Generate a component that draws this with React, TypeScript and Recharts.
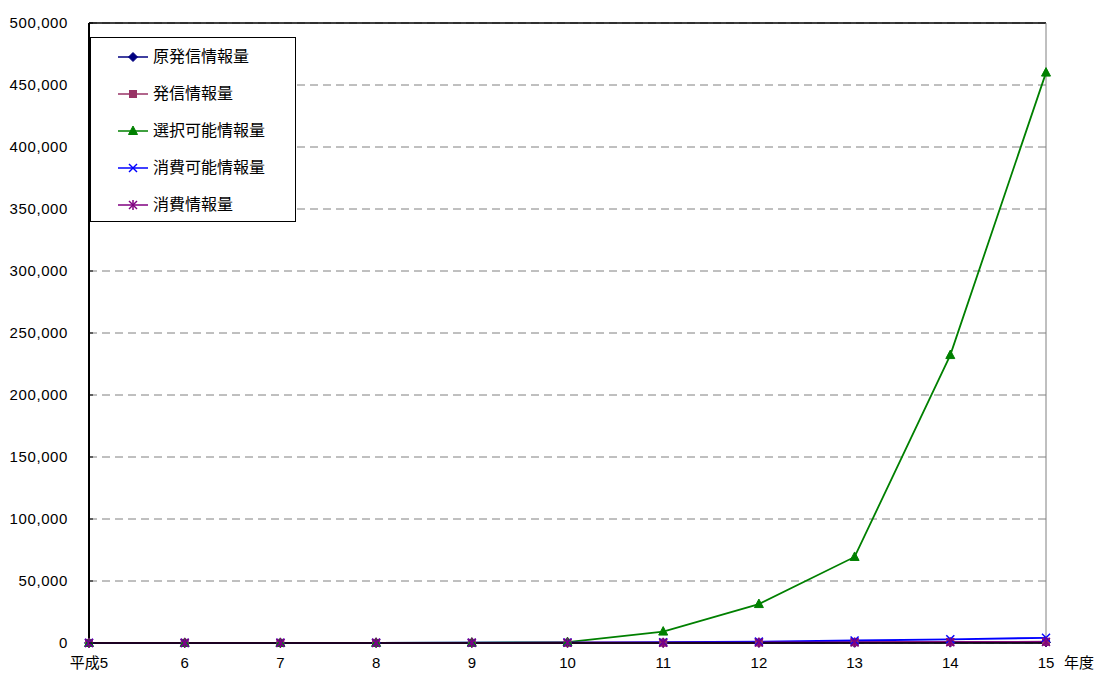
import React from 'react';
import { LineChart, Line, XAxis, YAxis, CartesianGrid, ReferenceLine } from 'recharts';

const years = ['平成5', '6', '7', '8', '9', '10', '11', '12', '13', '14', '15'];
const seriesNames = ['原発信情報量', '発信情報量', '選択可能情報量', '消費可能情報量', '消費情報量'];
const genHasshin = [60, 70, 80, 90, 110, 130, 160, 200, 260, 330, 420];
const hasshin = [80, 90, 110, 130, 160, 200, 280, 420, 600, 800, 1050];
const sentakuKanou = [60, 80, 100, 150, 300, 700, 9200, 31400, 69400, 232200, 460000];
const shouhiKanou = [90, 110, 140, 180, 250, 350, 600, 1100, 2000, 3000, 4200];
const shouhi = [70, 80, 100, 120, 150, 190, 260, 380, 500, 650, 800];
const yTicks = [0, 50000, 100000, 150000, 200000, 250000, 300000, 350000, 400000, 450000, 500000];

const seriesValues = [genHasshin, hasshin, sentakuKanou, shouhiKanou, shouhi];
const seriesColors = ['#000080', '#993366', '#008000', '#0000FF', '#800080'];
const seriesShapes = ['diamond', 'square', 'triangle', 'x', 'star'];

const data = years.map((y, i) => {
  const row: any = { year: y };
  seriesValues.forEach((arr, k) => {
    row['s' + k] = arr[i];
  });
  return row;
});

const FONT = "'Liberation Sans', Arial, 'Noto Sans CJK JP', sans-serif";

function Marker({ shape, cx, cy, color }: { shape: string; cx: number; cy: number; color: string }) {
  if (shape === 'diamond') {
    const s = 4.5;
    return <polygon points={`${cx},${cy - s} ${cx + s},${cy} ${cx},${cy + s} ${cx - s},${cy}`} fill={color} stroke={color} />;
  }
  if (shape === 'square') {
    return <rect x={cx - 3.5} y={cy - 3.5} width={7} height={7} fill={color} stroke={color} />;
  }
  if (shape === 'triangle') {
    return <polygon points={`${cx},${cy - 5} ${cx + 4.5},${cy + 3.5} ${cx - 4.5},${cy + 3.5}`} fill={color} stroke={color} />;
  }
  if (shape === 'x') {
    const s = 4;
    return (
      <g stroke={color} strokeWidth={1.5}>
        <line x1={cx - s} y1={cy - s} x2={cx + s} y2={cy + s} />
        <line x1={cx - s} y1={cy + s} x2={cx + s} y2={cy - s} />
      </g>
    );
  }
  const s = 4;
  return (
    <g stroke={color} strokeWidth={1.5}>
      <line x1={cx - s} y1={cy - s} x2={cx + s} y2={cy + s} />
      <line x1={cx - s} y1={cy + s} x2={cx + s} y2={cy - s} />
      <line x1={cx} y1={cy - s - 1} x2={cx} y2={cy + s + 1} />
    </g>
  );
}

const makeDot = (shape: string, color: string) => (props: any) => {
  const { cx, cy, index } = props;
  if (cx == null || cy == null) return <g key={index} />;
  return <Marker key={index} shape={shape} cx={cx} cy={cy} color={color} />;
};

const YTick = (props: any) => {
  const { x, y, payload } = props;
  return (
    <g>
      <line x1={x + 21} y1={y} x2={x + 25} y2={y} stroke="#000" strokeWidth={1} />
      <text x={x} y={y} dy={5} textAnchor="end" fontSize={15} letterSpacing={0.6} fontFamily={FONT} fill="#000">
        {Number(payload.value).toLocaleString('en-US')}
      </text>
    </g>
  );
};

const XTick = (props: any) => {
  const { x, y, payload } = props;
  return (
    <text x={x} y={y} dy={17} textAnchor="middle" fontSize={15} fontFamily={FONT} fill="#000">
      {payload.value}
    </text>
  );
};

function LegendBox() {
  return (
    <div
      style={{
        position: 'absolute',
        left: 90,
        top: 37,
        width: 206,
        height: 185,
        boxSizing: 'border-box',
        border: '1px solid #000',
        background: '#fff',
        fontFamily: FONT,
        fontSize: 16,
        color: '#000',
      }}
    >
      {seriesNames.map((name, i) => (
        <div key={name} style={{ height: 37, display: 'flex', alignItems: 'center' }}>
          <svg width={30} height={14} style={{ marginLeft: 27, marginRight: 5 }}>
            <line x1={0} y1={7} x2={30} y2={7} stroke={seriesColors[i]} strokeWidth={1.5} />
            <Marker shape={seriesShapes[i]} cx={15} cy={7} color={seriesColors[i]} />
          </svg>
          <span style={{ lineHeight: '16px' }}>{name}</span>
        </div>
      ))}
    </div>
  );
}

export default function App() {
  return (
    <div style={{ position: 'absolute', left: 0, top: 0, width: 1102, height: 673, background: '#fff' }}>
      <LineChart
        width={1102}
        height={673}
        data={data}
        margin={{ top: 23, right: 56, bottom: 0, left: 0 }}
      >
        <CartesianGrid vertical={false} stroke="#808080" strokeDasharray="8 5" />
        <XAxis
          dataKey="year"
          height={30}
          padding={{ left: 0, right: 0 }}
          tickLine={false}
          axisLine={{ stroke: '#000', strokeWidth: 1.5 }}
          tick={<XTick />}
          interval={0}
          label={{ value: '年度', position: 'right', offset: 18, dy: 5, fontSize: 15, fontFamily: FONT, fill: '#000' }}
        />
        <YAxis
          width={89}
          domain={[0, 500000]}
          ticks={yTicks}
          tickLine={false}
          tickSize={0}
          tickMargin={21}
          axisLine={{ stroke: '#000', strokeWidth: 2 }}
          tick={<YTick />}
          interval={0}
        />
        <ReferenceLine y={500000} stroke="#000" strokeWidth={1.5} />
        <ReferenceLine x="15" stroke="#808080" strokeWidth={1} />
        {seriesNames.map((name, k) => (
          <Line
            key={name}
            name={name}
            type="linear"
            dataKey={'s' + k}
            stroke={seriesColors[k]}
            strokeWidth={1.8}
            dot={makeDot(seriesShapes[k], seriesColors[k])}
            activeDot={false}
            isAnimationActive={false}
          />
        ))}
      </LineChart>
      <LegendBox />
    </div>
  );
}
